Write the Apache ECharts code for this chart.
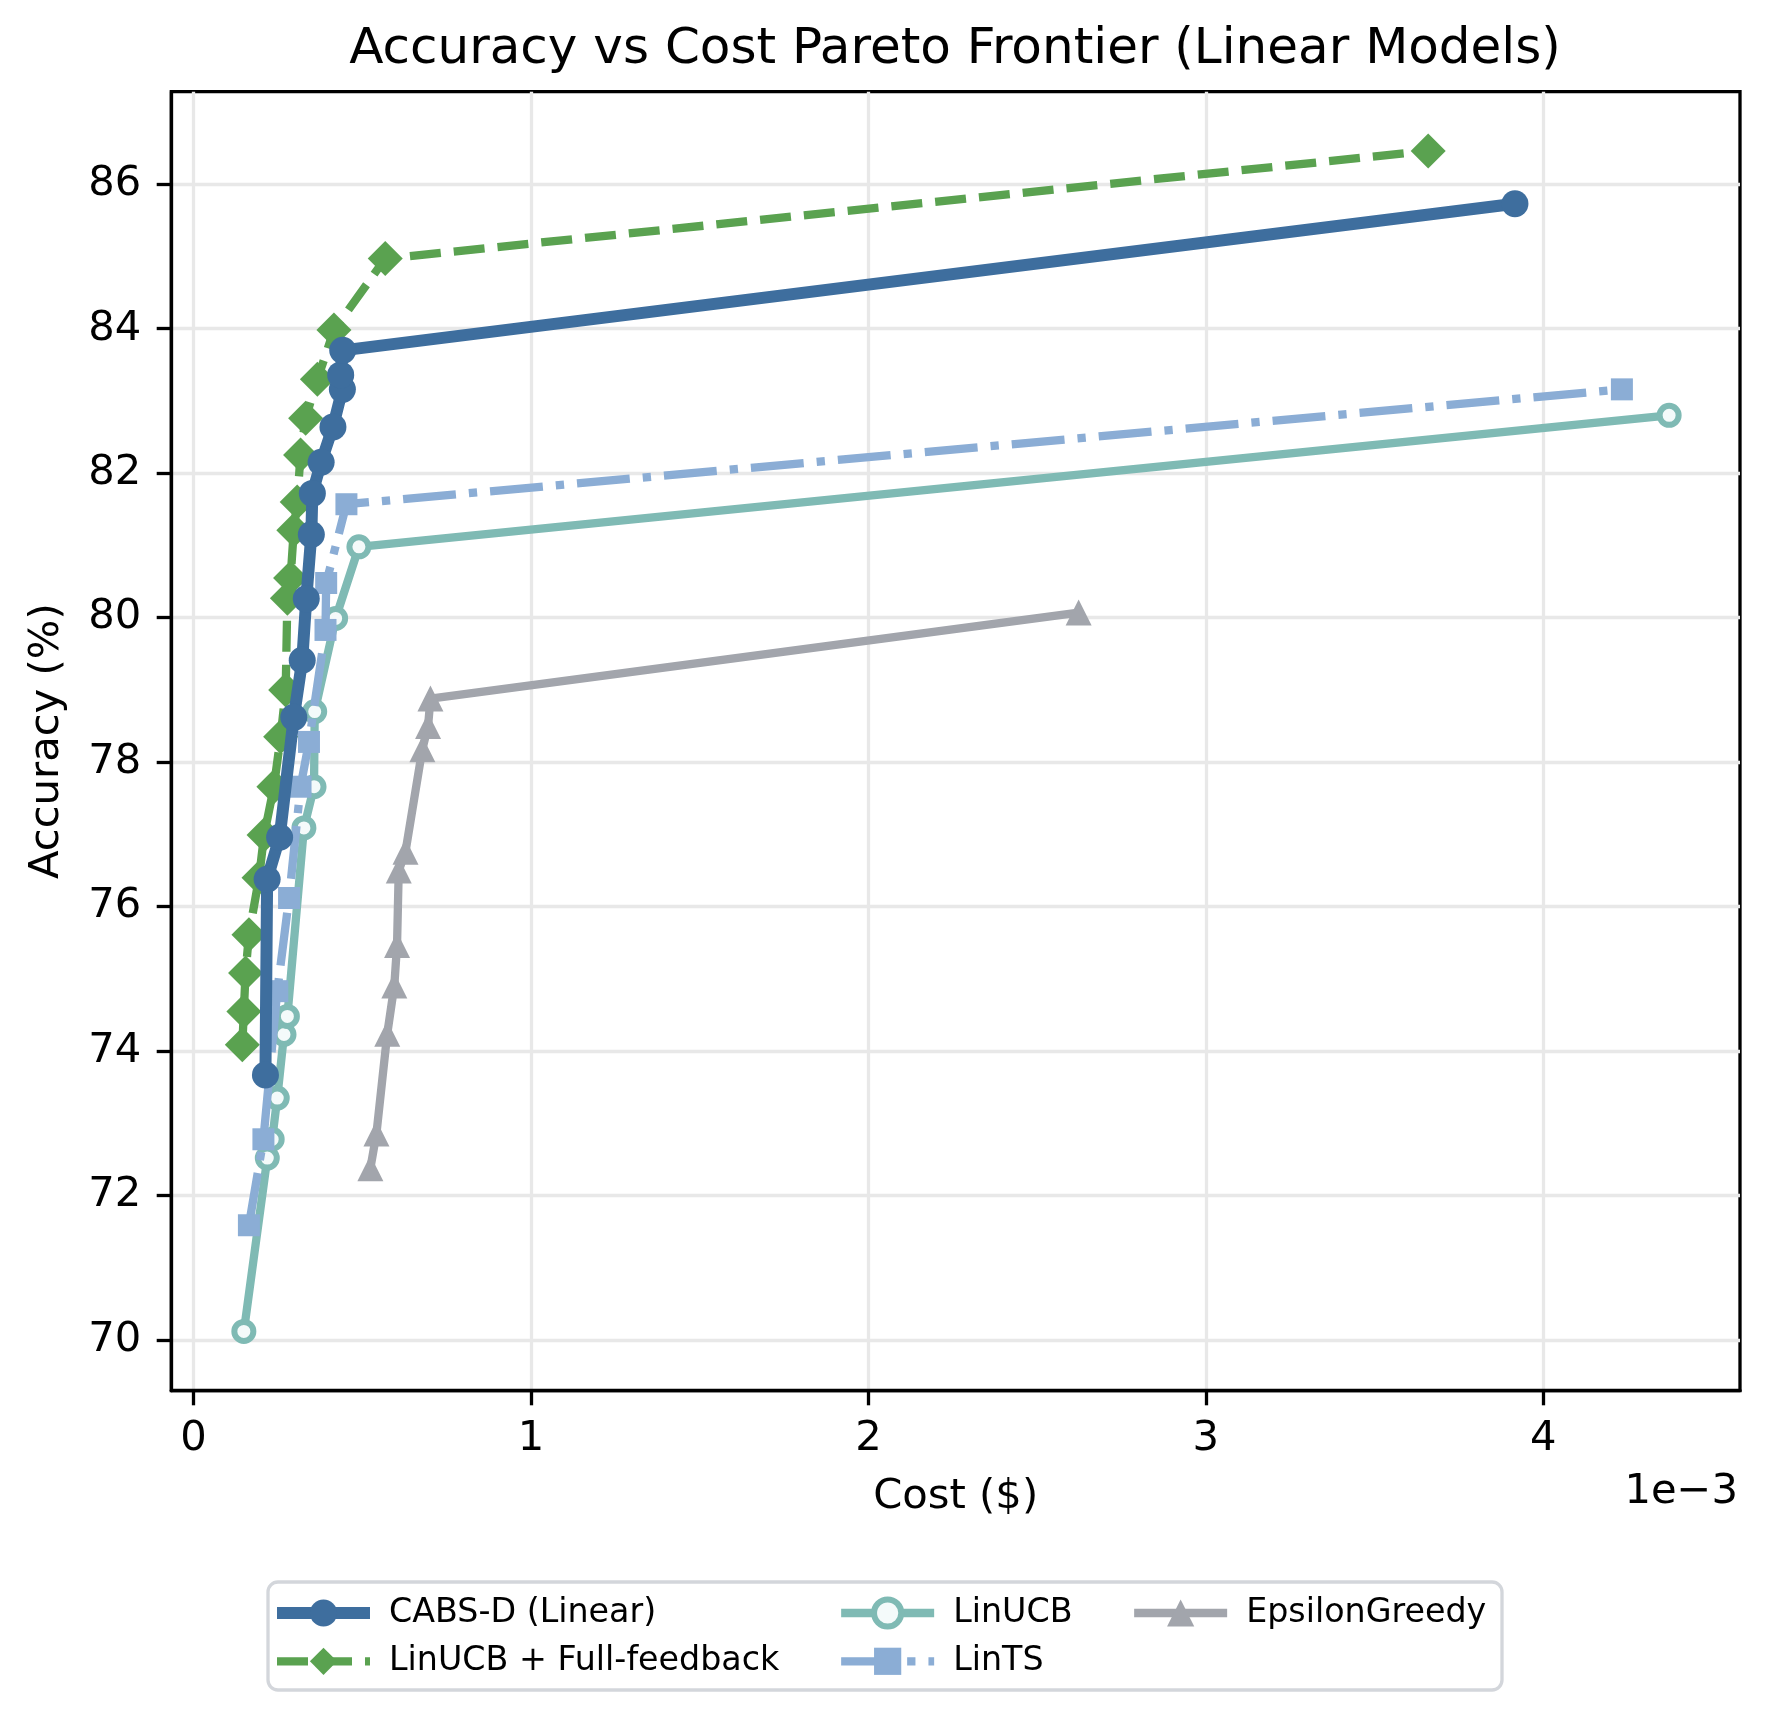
<!DOCTYPE html>
<html>
<head>
<meta charset="utf-8">
<title>Accuracy vs Cost Pareto Frontier (Linear Models)</title>
<script src="https://cdn.jsdelivr.net/npm/echarts@6.0.0/dist/echarts.min.js"></script>
<style>
  html, body { margin: 0; padding: 0; background: #fff; }
  #chart { width: 1769px; height: 1722px; }
</style>
</head>
<body>
<div id="chart"></div>
<script>
// series names, in legend order
const methods = ['CABS-D (Linear)', 'LinUCB + Full-feedback', 'LinUCB', 'LinTS', 'EpsilonGreedy'];

// cost in units of 1e-3 $, accuracy in %
const cabsCost = [0.213, 0.218, 0.255, 0.297, 0.322, 0.334, 0.349, 0.352, 0.378, 0.413, 0.441, 0.436, 0.442, 3.916];
const cabsAcc  = [73.67, 76.38, 76.96, 78.62, 79.41, 80.26, 81.15, 81.72, 82.15, 82.64, 83.16, 83.36, 83.70, 85.73];

const ffCost = [0.1445, 0.149, 0.154, 0.164, 0.194, 0.209, 0.238, 0.258, 0.273, 0.278, 0.2875, 0.297, 0.307, 0.317, 0.332, 0.367, 0.416, 0.568, 3.659];
const ffAcc  = [74.09, 74.55, 75.08, 75.61, 76.40, 76.99, 77.66, 78.35, 79.00, 80.27, 80.55, 81.21, 81.60, 82.25, 82.76, 83.30, 83.98, 84.97, 86.46];

const linucbCost = [0.149, 0.2185, 0.233, 0.248, 0.268, 0.278, 0.327, 0.357, 0.359, 0.421, 0.490, 4.373];
const linucbAcc  = [70.12, 72.52, 72.78, 73.35, 74.23, 74.48, 77.09, 77.66, 78.70, 79.99, 80.98, 82.80];

const lintsCost = [0.164, 0.207, 0.248, 0.283, 0.317, 0.342, 0.391, 0.393, 0.453, 4.233];
const lintsAcc  = [71.59, 72.78, 74.83, 76.12, 77.66, 78.28, 79.83, 80.48, 81.57, 83.16];

const epsCost = [0.524, 0.542, 0.574, 0.595, 0.603, 0.608, 0.628, 0.678, 0.695, 0.702, 2.623];
const epsAcc  = [72.38, 72.86, 74.24, 74.91, 75.47, 76.50, 76.76, 78.18, 78.50, 78.88, 80.07];

const xTicks = [0, 1, 2, 3, 4];
const yTicks = [70, 72, 74, 76, 78, 80, 82, 84, 86];

const FONT = 'DejaVu Sans';

// per-series look, shared by the plot and the legend
const looks = [
    { color: '#3e6e9e', symbol: 'circle', size: 27, width: 12, type: 'solid', item: { color: '#3e6e9e' }, z: 5 },
    { color: '#5aa250', symbol: 'diamond', size: 35, width: 8.3, type: [31, 13], item: { color: '#5aa250' }, z: 2 },
    { color: '#7fbab4', symbol: 'circle', size: 19, width: 8.3, type: 'solid',
      item: { color: '#f4fafa', borderColor: '#7fbab4', borderWidth: 6 }, z: 3 },
    { color: '#8badd5', symbol: 'rect', size: 22, width: 8.3, type: [53, 13, 8.3, 13], item: { color: '#8badd5' }, z: 4 },
    { color: '#a2a5ac', symbol: 'triangle', size: 26, width: 8.3, type: 'solid', item: { color: '#a2a5ac' }, z: 2 }
];
const costs = [cabsCost, ffCost, linucbCost, lintsCost, epsCost];
const accs = [cabsAcc, ffAcc, linucbAcc, lintsAcc, epsAcc];

function pairs(xs, ys) {
    return xs.map(function (x, i) { return [x, ys[i]]; });
}

function legendItem(i) {
    const l = looks[i];
    return {
        name: methods[i],
        itemStyle: Object.assign({}, l.item),
        lineStyle: { color: l.color, width: l.width, type: l.type }
    };
}

let chart = echarts.init(document.getElementById('chart'), null, { renderer: 'canvas' });

const legendBase = {
    orient: 'vertical',
    top: 1596,
    padding: 0,
    itemWidth: 93,
    itemHeight: 34,
    itemGap: 14.3,
    selectedMode: false,
    textStyle: { fontFamily: FONT, fontSize: 33.3, color: '#000', lineHeight: 34, padding: [0, 0, 0, 14] }
};

chart.setOption({
    animation: false,
    backgroundColor: '#fff',
    grid: {
        left: 171.3, top: 91.7, right: 29, bottom: 331.3,
        show: true, borderColor: '#000', borderWidth: 3.3, backgroundColor: 'transparent'
    },
    legend: [
        Object.assign({}, legendBase, { left: 271, data: [legendItem(0), legendItem(1)] }),
        Object.assign({}, legendBase, { left: 837, data: [legendItem(2), legendItem(3)] }),
        Object.assign({}, legendBase, { left: 1130, data: [legendItem(4)] })
    ],
    graphic: [
        {
            type: 'rect', z: 0,
            shape: { x: 268, y: 1582, width: 1234, height: 108, r: 10 },
            style: { fill: '#fff', stroke: '#d3d6db', lineWidth: 3.3 }
        },
        {
            type: 'text',
            style: { text: 'Accuracy vs Cost Pareto Frontier (Linear Models)', x: 955, y: 50,
                     align: 'center', verticalAlign: 'middle', font: '50px "DejaVu Sans"', fill: '#000' }
        },
        {
            type: 'text',
            style: { text: '1e\u22123', x: 1738, y: 1492,
                     align: 'right', verticalAlign: 'middle', font: '41.7px "DejaVu Sans"', fill: '#000' }
        }
    ],
    xAxis: {
        type: 'value',
        min: -0.066, max: 4.583,
        name: 'Cost ($)', nameLocation: 'middle', nameGap: 85,
        nameTextStyle: { fontFamily: FONT, fontSize: 41.7, color: '#000' },
        axisLine: { show: true, onZero: false, lineStyle: { color: '#000', width: 3.3 } },
        axisTick: { show: true, length: 14.6, customValues: xTicks, lineStyle: { color: '#000', width: 3.3 } },
        axisLabel: { customValues: xTicks, margin: 27, fontFamily: FONT, fontSize: 41.7, color: '#000' },
        splitLine: { show: true, lineStyle: { color: '#e8e8e8', width: 3.3 } }
    },
    yAxis: {
        type: 'value',
        min: 69.3, max: 87.28,
        name: 'Accuracy (%)', nameLocation: 'middle', nameGap: 103,
        nameTextStyle: { fontFamily: FONT, fontSize: 41.7, color: '#000' },
        axisLine: { show: true, onZero: false, lineStyle: { color: '#000', width: 3.3 } },
        axisTick: { show: true, length: 14.6, customValues: yTicks, lineStyle: { color: '#000', width: 3.3 } },
        axisLabel: { customValues: yTicks, margin: 30, fontFamily: FONT, fontSize: 41.7, color: '#000' },
        splitLine: { show: true, lineStyle: { color: '#e8e8e8', width: 3.3 } }
    },
    series: methods.map(function (name, i) {
        const l = looks[i];
        return {
            name: name, type: 'line', z: l.z,
            data: pairs(costs[i], accs[i]),
            symbol: l.symbol, symbolSize: l.size,
            lineStyle: { color: l.color, width: l.width, type: l.type, join: 'round' },
            itemStyle: Object.assign({}, l.item)
        };
    })
});
</script>
</body>
</html>
